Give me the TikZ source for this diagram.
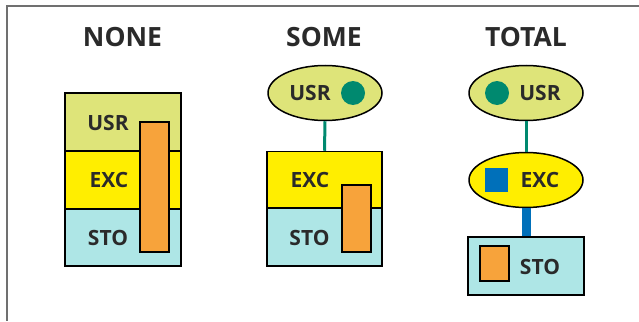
\documentclass[tikz,border=0pt]{standalone}
\usepackage{fontspec}
\usetikzlibrary{shapes.geometric}
\newfontfamily\labelfam{Open Sans}
\definecolor{ink}{HTML}{2A2A2A}
\definecolor{framec}{HTML}{707070}
\definecolor{usrc}{HTML}{DEE479}
\definecolor{excc}{HTML}{FFEE00}
\definecolor{stoc}{HTML}{AEE6E6}
\definecolor{orangec}{HTML}{F7A33B}
\definecolor{tealc}{HTML}{00896F}
\definecolor{bluec}{HTML}{0070BA}
\tikzset{
  head/.style={font=\labelfam\bfseries\fontsize{26.5}{30}\selectfont, text=ink, inner sep=0},
  lbl/.style={font=\labelfam\bfseries\fontsize{21}{24}\selectfont, text=ink, inner sep=0},
  band/.style={draw=black, line width=1.5pt, minimum width=116pt, inner sep=0},
  oval/.style={ellipse, draw=black, line width=1.5pt, minimum width=114pt, minimum height=55pt, inner sep=0},
  bar/.style={draw=black, line width=1.5pt, fill=orangec, inner sep=0},
}
\begin{document}
\begin{tikzpicture}[x=1pt,y=-1pt]
\useasboundingbox (0,0) rectangle (639,321);
% frame
\draw[framec, line width=1.3pt] (639,6) -- (7,6) -- (7,321);

% ---- NONE ----
\node[head] (h-none) at (122.5,37) {NONE};
\node[band, fill=usrc, minimum height=58pt] (n-usr) at (123,122) {};
\node[band, fill=excc, minimum height=57pt] (n-exc) at (123,180) {};
\node[band, fill=stoc, minimum height=57pt] (n-sto) at (123,237.5) {};
\node[bar, minimum width=29pt, minimum height=130pt] (n-bar) at (154.5,187) {};
\node[lbl] (n-usr-t) at (108,123) {USR};
\node[lbl] (n-exc-t) at (109,180) {EXC};
\node[lbl] (n-sto-t) at (108,238) {STO};

% ---- SOME ----
\node[head] (h-some) at (324,37) {SOME};
\node[oval, fill=usrc] (s-usr) at (325,93) {};
\node[band, fill=excc, minimum width=115pt, minimum height=57pt] (s-exc) at (324.5,180) {};
\node[band, fill=stoc, minimum width=115pt, minimum height=58pt] (s-sto) at (324.5,237) {};
\draw[tealc, line width=3pt] (s-usr.south) -- (s-exc.north);
\node[bar, minimum width=29pt, minimum height=67pt] (s-bar) at (356.5,218.5) {};
\node[circle, fill=tealc, minimum size=24pt, inner sep=0] (s-dot) at (353,93) {};
\node[lbl] (s-usr-t) at (310,93) {USR};
\node[lbl] (s-exc-t) at (310,180) {EXC};
\node[lbl] (s-sto-t) at (309.5,238) {STO};

% ---- TOTAL ----
\node[head] (h-total) at (526,37) {TOTAL};
\node[oval, fill=usrc] (t-usr) at (526,93) {};
\node[oval, fill=excc] (t-exc) at (526,180) {};
\node[band, fill=stoc, minimum width=116pt, minimum height=58pt] (t-sto) at (526,266) {};
\draw[tealc, line width=3pt] (t-usr.south) -- (t-exc.north);
\draw[bluec, line width=9pt] (t-exc.south) -- (t-sto.north);
\node[circle, fill=tealc, minimum size=24pt, inner sep=0] (t-dot) at (497,93) {};
\node[fill=bluec, minimum width=23pt, minimum height=24pt, inner sep=0] (t-sq) at (496.5,180) {};
\node[bar, minimum width=29pt, minimum height=35pt] (t-box) at (494.5,263.5) {};
\node[lbl] (t-usr-t) at (540,93) {USR};
\node[lbl] (t-exc-t) at (540,180) {EXC};
\node[lbl] (t-sto-t) at (540,267) {STO};
\end{tikzpicture}
\end{document}
